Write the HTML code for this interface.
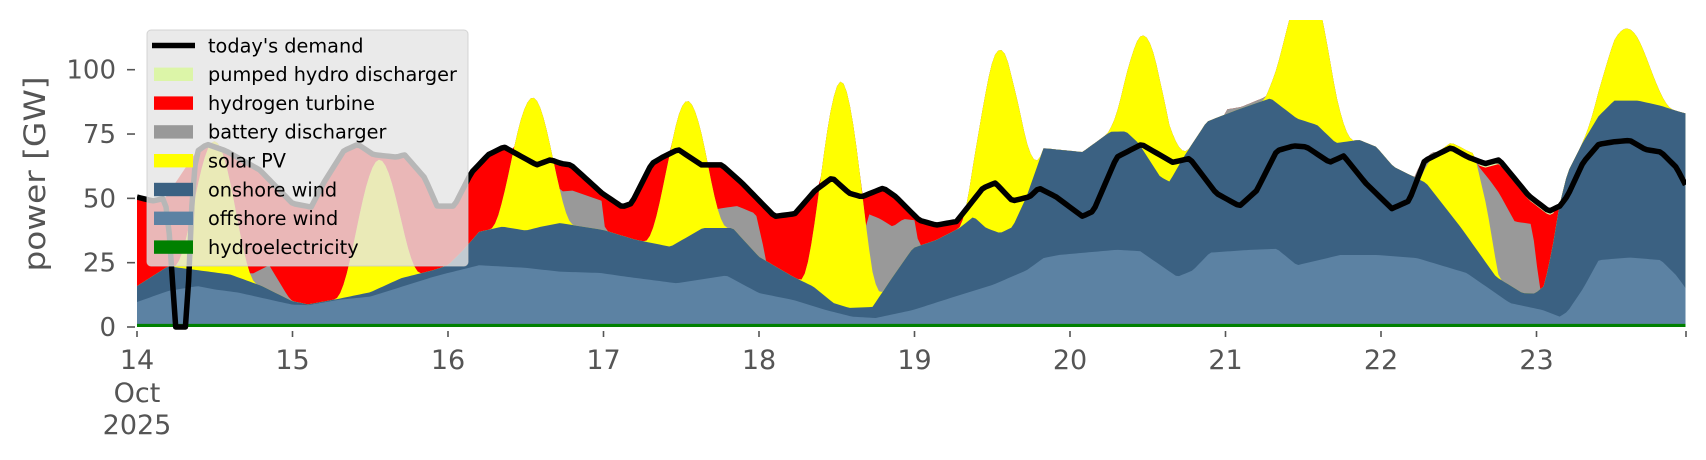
<!DOCTYPE html>
<html><head><meta charset="utf-8">
<style>
html,body{margin:0;padding:0;background:#fff;}
svg{display:block;}
text{font-family:"DejaVu Sans","Liberation Sans",sans-serif;}
</style></head>
<body>
<svg id="s" width="1706" height="460" viewBox="0 0 1706 460" xmlns="http://www.w3.org/2000/svg">
<defs><clipPath id="cp"><rect x="137" y="20" width="1549" height="310"/></clipPath></defs>
<g id="plot" clip-path="url(#cp)"></g>
<g id="axes" fill="#555" stroke="none">
<text x="45" y="174" font-size="29" text-anchor="middle" transform="rotate(-90 45 174)" textLength="195" lengthAdjust="spacingAndGlyphs">power [GW]</text>
</g>
<g id="leg"></g>
</svg>
<script>
(function(){
var NS="http://www.w3.org/2000/svg";
function X(d){return 137+(d-14)*155.5;}
function Y(v){return 327-2.573*v;}
function interp(keys,t){
  if(t<=keys[0][0])return keys[0][1];
  for(var i=1;i<keys.length;i++){if(t<=keys[i][0]){var a=keys[i-1],b=keys[i];return a[1]+(b[1]-a[1])*(t-a[0])/(b[0]-a[0]);}}
  return keys[keys.length-1][1];
}
function seg(keys,t){if(t<keys[0][0]||t>keys[keys.length-1][0])return null;return interp(keys,t);}
var off=[[14,9.7],[14.2,14],[14.39,15.9],[14.5,14.6],[14.65,13.4],[14.9,10],[15.0,8.7],[15.1,8.5],[15.3,10.6],[15.5,11.8],[15.7,15.6],[15.9,19.4],[16.0,21],[16.2,24],[16.5,23],[16.72,21.5],[16.98,21],[17.15,19.5],[17.47,17],[17.79,20],[18.0,13.2],[18.22,10.5],[18.43,6.6],[18.6,4],[18.75,3.5],[18.99,6.6],[19.29,12.4],[19.5,16.3],[19.72,22],[19.83,26.8],[19.93,28],[20.3,30],[20.45,29.5],[20.69,19.5],[20.79,22],[20.9,28.9],[21.16,30],[21.33,30.4],[21.46,24],[21.74,28],[21.97,28],[22.23,26.8],[22.55,21],[22.83,9.3],[23.04,6.6],[23.15,4],[23.2,6],[23.3,15],[23.4,26],[23.6,27],[23.8,26],[23.9,20],[23.96,15]];
var on=[[14,15.9],[14.2,23.6],[14.4,22],[14.6,20.4],[14.8,16],[15.0,10],[15.1,8.8],[15.3,11],[15.5,13.5],[15.7,19],[15.9,22],[16.0,24],[16.1,30],[16.2,37],[16.35,39],[16.5,37.5],[16.6,39],[16.72,40.4],[17.0,37.7],[17.2,34],[17.43,31.2],[17.64,38.5],[17.83,38.5],[18.0,27.3],[18.22,19.5],[18.35,15.7],[18.48,9.3],[18.58,7.4],[18.73,7.8],[18.86,19.5],[18.99,30.7],[19.14,33.8],[19.29,38.5],[19.38,42.9],[19.46,38.5],[19.55,36.5],[19.63,38.8],[19.72,50.6],[19.83,69.5],[19.93,68.9],[20.08,68],[20.26,75.9],[20.36,76],[20.44,71.5],[20.58,58.4],[20.64,56.5],[20.73,66],[20.88,79.8],[21.07,84.3],[21.29,88.9],[21.46,81],[21.59,78.5],[21.71,71.5],[21.86,72.7],[21.97,70],[22.08,62.3],[22.29,56],[22.51,39],[22.74,19.5],[22.91,13.2],[22.99,13],[23.05,16],[23.1,30],[23.15,48],[23.2,60],[23.3,72],[23.4,82],[23.5,88],[23.65,88],[23.8,86],[23.9,84],[23.96,83]];
var dem=[[14,50.5],[14.1,49],[14.18,50],[14.22,30],[14.24,0],[14.32,0],[14.35,45],[14.38,68],[14.45,71],[14.57,68.5],[14.79,61],[15.0,48],[15.12,46.6],[15.2,56],[15.33,68.5],[15.42,71],[15.52,67],[15.67,66],[15.72,67],[15.85,58],[15.93,47],[16.04,47],[16.15,60],[16.26,67],[16.36,70],[16.51,65],[16.57,63],[16.66,65],[16.73,63.5],[16.79,63],[16.99,52],[17.12,46.7],[17.18,48],[17.31,63.5],[17.38,66],[17.48,69],[17.63,63],[17.76,63],[17.89,56],[18.1,43],[18.23,44],[18.36,53],[18.47,58],[18.58,52],[18.66,50.6],[18.8,54],[18.88,50.6],[19.03,41.5],[19.14,39.6],[19.27,41],[19.44,54],[19.52,56],[19.63,49],[19.74,50.6],[19.8,54],[19.91,50.6],[20.08,43],[20.15,45],[20.3,66],[20.46,71],[20.66,64],[20.77,65.5],[20.94,52],[21.09,47],[21.2,53],[21.33,68.5],[21.44,70.4],[21.52,70],[21.67,64],[21.76,66.5],[21.9,56],[22.07,46],[22.18,49],[22.28,64.6],[22.45,69.7],[22.56,66],[22.67,63.5],[22.76,65],[22.95,51],[23.08,45],[23.15,47],[23.2,51],[23.3,64],[23.4,71],[23.5,72],[23.6,72.5],[23.7,69],[23.8,68],[23.9,62],[23.96,55]];
var fillT=dem.filter(function(k){return !(k[0]>14.18&&k[0]<14.38);});
var bumps=[[14.5,51,0.27],[15.55,50,0.28],[16.54,51,0.27],[17.53,53,0.27],[18.53,87,0.27],[19.55,71,0.27],[20.5,46,0.27],[21.53,55,0.3],[23.58,28,0.3]];
var sol22=[[22.25,0],[22.35,16],[22.45,28],[22.55,33],[22.6,36],[22.68,22],[22.76,0]];
var greys=[
 [[14.72,20],[14.85,24],[14.97,12],[15.0,10]],
 [[16.6,52],[16.8,53],[16.99,49],[17.01,38]],
 [[17.74,46],[17.86,47],[17.98,44],[18.04,28]],
 [[18.7,44],[18.78,42],[18.86,39],[18.93,42],[19.0,41.5],[19.03,31]],
 [[22.19,55],[22.25,63],[22.33,68],[22.37,68]],
 [[22.58,66],[22.7,57],[22.76,52],[22.86,41],[22.97,40],[23.0,25],[23.02,16]],
 [[21.0,84.5],[21.1,85.5],[21.28,90],[21.3,89]]
];
var N=480,T0=14,T1=23.958;
var L={hy:[],off:[],on:[],sol:[],gr:[],red:[],pu:[]};
for(var i=0;i<=N;i++){
 var t=T0+(T1-T0)*i/N;
 var o=interp(off,t), n=Math.max(o,interp(on,t));
 var s=0;
 bumps.forEach(function(b){var u=(t-b[0])/b[2];if(Math.abs(u)<1){var c=Math.cos(Math.PI/2*u);s+=b[1]*c*c;}});
 var s22=seg(sol22,t);if(s22!==null)s+=s22;
 var st=n+s;
 var g=st;
 greys.forEach(function(k){var v=seg(k,t);if(v!==null)g=Math.max(g,v);});
 var f=interp(fillT,t);
 var pumped=(t>22.45&&t<23.12);
 var r=Math.max(g,pumped?f-1.6:f);
 var p=Math.max(r,f);
 L.hy.push([t,1.2]);L.off.push([t,o]);L.on.push([t,n]);L.sol.push([t,st]);L.gr.push([t,g]);L.red.push([t,r]);L.pu.push([t,p]);
}
var plot=document.getElementById("plot");
function area(arr,color){
 var d="M"+X(T0)+","+Y(0);
 arr.forEach(function(p){d+="L"+X(p[0]).toFixed(2)+","+Y(p[1]).toFixed(2);});
 d+="L"+X(T1)+","+Y(0)+"Z";
 var e=document.createElementNS(NS,"path");e.setAttribute("d",d);e.setAttribute("fill",color);plot.appendChild(e);
}
area(L.pu,"#dcf5a8");area(L.red,"#ff0000");area(L.gr,"#999999");area(L.sol,"#ffff00");
area(L.on,"#3b6182");area(L.off,"#5c82a3");area(L.hy,"#008000");
var pts=[];for(var i=0;i<=N;i++){var t=T0+(T1-T0)*i/N;pts.push(X(t).toFixed(2)+","+Y(interp(dem,t)).toFixed(2));}
var pl=document.createElementNS(NS,"polyline");pl.setAttribute("points",pts.join(" "));
pl.setAttribute("fill","none");pl.setAttribute("stroke","#000");pl.setAttribute("stroke-width","5.5");pl.setAttribute("stroke-linejoin","round");
plot.appendChild(pl);
var ax=document.getElementById("axes");
function el(tag,attrs,txt,parent){var e=document.createElementNS(NS,tag);for(var k in attrs)e.setAttribute(k,attrs[k]);if(txt)e.textContent=txt;(parent||ax).appendChild(e);return e;}
[0,25,50,75,100].forEach(function(v){
 el("line",{x1:127,x2:135,y1:Y(v),y2:Y(v),stroke:"#555","stroke-width":1.6});
 el("text",{x:116,y:Y(v)+9,"font-size":26,"text-anchor":"end"},String(v));
});
for(var d=14;d<=23;d++){
 el("line",{x1:X(d),x2:X(d),y1:331,y2:337,stroke:"#555","stroke-width":1.6});
 el("text",{x:X(d),y:369,"font-size":27,"text-anchor":"middle"},String(d));
}
el("line",{x1:1686,x2:1686,y1:331,y2:337,stroke:"#555","stroke-width":1.6});
el("text",{x:X(14),y:402,"font-size":27,"text-anchor":"middle"},"Oct");
el("text",{x:X(14),y:434,"font-size":27,"text-anchor":"middle"},"2025");
var lg=document.getElementById("leg");
el("rect",{x:147,y:30,width:321,height:236,rx:4,fill:"#e5e5e5","fill-opacity":0.8,stroke:"#cccccc","stroke-opacity":0.8},null,lg);
var items=[["today's demand",null],["pumped hydro discharger","#dcf5a8"],["hydrogen turbine","#ff0000"],["battery discharger","#999999"],["solar PV","#ffff00"],["onshore wind","#3b6182"],["offshore wind","#5c82a3"],["hydroelectricity","#008000"]];
items.forEach(function(it,i){
 var cy=45.5+i*28.8;
 if(it[1]===null)el("line",{x1:152,x2:195,y1:cy,y2:cy,stroke:"#000","stroke-width":5.5},null,lg);
 else el("rect",{x:154,y:cy-6.7,width:39,height:13.4,fill:it[1]},null,lg);
 el("text",{x:208,y:cy+6.8,"font-size":19.3,fill:"#000"},it[0],lg);
});
})();
</script>
</body></html>
